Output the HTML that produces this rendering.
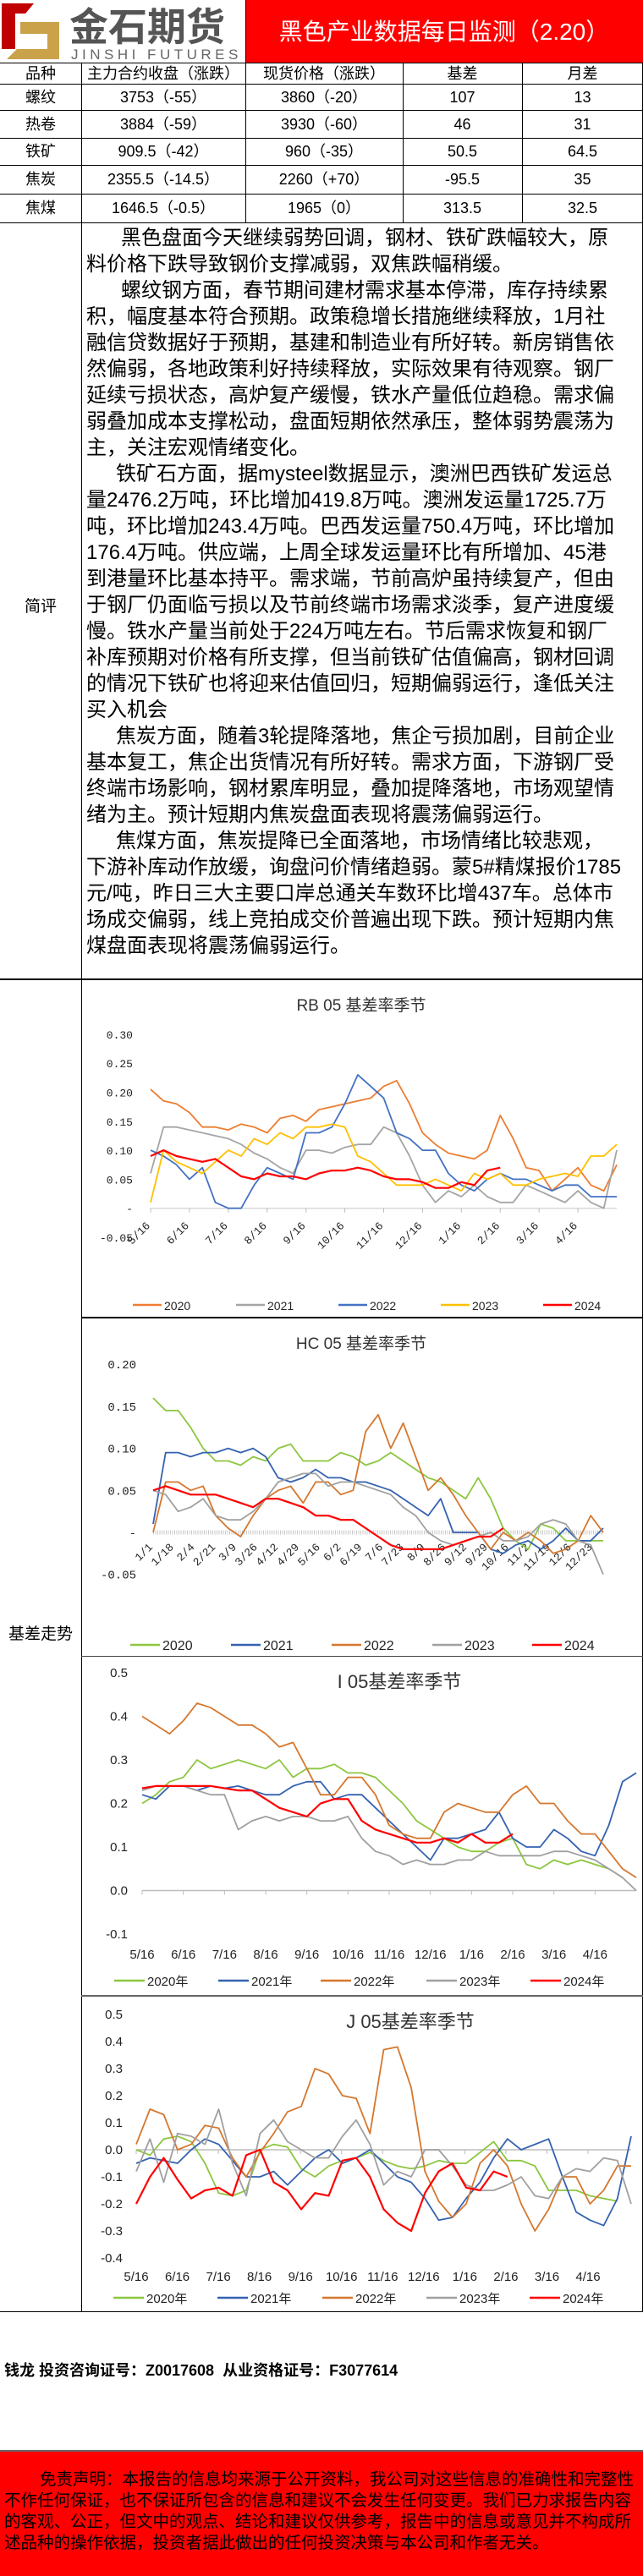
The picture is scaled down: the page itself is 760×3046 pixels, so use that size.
<!DOCTYPE html>
<html><head><meta charset="utf-8">
<style>
html,body{margin:0;padding:0;background:#fff;}
body{width:760px;height:3046px;position:relative;overflow:hidden;font-family:"Liberation Sans","Noto Sans CJK SC",sans-serif;color:#000;}
.a{position:absolute;}
.hl{position:absolute;background:#000;height:1px;}
.vl{position:absolute;background:#000;width:1px;}
.cell{position:absolute;font-size:18px;text-align:center;white-space:nowrap;line-height:1;}
.tl{position:absolute;left:102px;font-size:24px;white-space:nowrap;line-height:1;}
.fl{position:absolute;left:5px;font-size:19.5px;white-space:nowrap;line-height:1;color:#000;}
</style></head>
<body>
<!-- header -->
<div class="a" style="left:0;top:0;width:290px;height:74px;">
<svg width="290" height="74">
<path d="M2 4 H40 L30 16 H18 V58 H2 Z" fill="#C00000"/>
<path d="M24 26 H70 V70 H8 L20 58 H56 V40 H24 Z" fill="#C9A24A"/>
<text x="82" y="48" font-size="46" font-weight="bold" fill="#555" font-family="Liberation Sans,Noto Sans CJK SC,sans-serif">金石期货</text>
<text x="84" y="70" font-size="17" fill="#666" letter-spacing="4.5" font-family="Liberation Sans,sans-serif">JINSHI FUTURES</text>
</svg></div>
<div class="a" style="left:290px;top:0;width:470px;height:74px;background:#FF0000;"></div>
<div class="a" style="left:290px;top:24px;width:470px;text-align:center;color:#fff;font-size:28px;line-height:1;">黑色产业数据每日监测（2.20）</div>

<!-- table lines -->
<div class="hl" style="left:0;top:74px;width:760px;"></div>
<div class="hl" style="left:0;top:99px;width:760px;"></div>
<div class="hl" style="left:0;top:130px;width:760px;"></div>
<div class="hl" style="left:0;top:163px;width:760px;"></div>
<div class="hl" style="left:0;top:195px;width:760px;"></div>
<div class="hl" style="left:0;top:229px;width:760px;"></div>
<div class="hl" style="left:0;top:263px;width:760px;"></div>
<div class="vl" style="left:96px;top:74px;height:2659px;"></div>
<div class="vl" style="left:290px;top:0px;height:263px;"></div>
<div class="vl" style="left:476px;top:74px;height:189px;"></div>
<div class="vl" style="left:617px;top:74px;height:189px;"></div>
<div class="vl" style="left:759px;top:74px;height:2659px;"></div>

<div>
<div class="cell" style="left:0;width:96px;top:78px;">品种</div>
<div class="cell" style="left:96px;width:194px;top:78px;">主力合约收盘（涨跌）</div>
<div class="cell" style="left:290px;width:186px;top:78px;">现货价格（涨跌）</div>
<div class="cell" style="left:476px;width:141px;top:78px;">基差</div>
<div class="cell" style="left:617px;width:143px;top:78px;">月差</div>

<div class="cell" style="left:0;width:96px;top:106px;">螺纹</div>
<div class="cell" style="left:96px;width:194px;top:106px;">3753（-55）</div>
<div class="cell" style="left:290px;width:186px;top:106px;">3860（-20）</div>
<div class="cell" style="left:476px;width:141px;top:106px;">107</div>
<div class="cell" style="left:617px;width:143px;top:106px;">13</div>

<div class="cell" style="left:0;width:96px;top:138px;">热卷</div>
<div class="cell" style="left:96px;width:194px;top:138px;">3884（-59）</div>
<div class="cell" style="left:290px;width:186px;top:138px;">3930（-60）</div>
<div class="cell" style="left:476px;width:141px;top:138px;">46</div>
<div class="cell" style="left:617px;width:143px;top:138px;">31</div>

<div class="cell" style="left:0;width:96px;top:170px;">铁矿</div>
<div class="cell" style="left:96px;width:194px;top:170px;">909.5（-42）</div>
<div class="cell" style="left:290px;width:186px;top:170px;">960（-35）</div>
<div class="cell" style="left:476px;width:141px;top:170px;">50.5</div>
<div class="cell" style="left:617px;width:143px;top:170px;">64.5</div>

<div class="cell" style="left:0;width:96px;top:203px;">焦炭</div>
<div class="cell" style="left:96px;width:194px;top:203px;">2355.5（-14.5）</div>
<div class="cell" style="left:290px;width:186px;top:203px;">2260（+70）</div>
<div class="cell" style="left:476px;width:141px;top:203px;">-95.5</div>
<div class="cell" style="left:617px;width:143px;top:203px;">35</div>

<div class="cell" style="left:0;width:96px;top:237px;">焦煤</div>
<div class="cell" style="left:96px;width:194px;top:237px;">1646.5（-0.5）</div>
<div class="cell" style="left:290px;width:186px;top:237px;">1965（0）</div>
<div class="cell" style="left:476px;width:141px;top:237px;">313.5</div>
<div class="cell" style="left:617px;width:143px;top:237px;">32.5</div>
</div>

<!-- commentary -->
<div class="a" style="left:0;width:96px;top:702px;text-align:center;font-size:19px;">简评</div>
<div>
<div class="tl" style="top:270px;left:143px;">黑色盘面今天继续弱势回调，钢材、铁矿跌幅较大，原</div>
<div class="tl" style="top:301px;">料价格下跌导致钢价支撑减弱，双焦跌幅稍缓。</div>
<div class="tl" style="top:332px;left:143px;">螺纹钢方面，春节期间建材需求基本停滞，库存持续累</div>
<div class="tl" style="top:363px;">积，幅度基本符合预期。政策稳增长措施继续释放，1月社</div>
<div class="tl" style="top:394px;">融信贷数据好于预期，基建和制造业有所好转。新房销售依</div>
<div class="tl" style="top:425px;">然偏弱，各地政策利好持续释放，实际效果有待观察。钢厂</div>
<div class="tl" style="top:456px;">延续亏损状态，高炉复产缓慢，铁水产量低位趋稳。需求偏</div>
<div class="tl" style="top:487px;">弱叠加成本支撑松动，盘面短期依然承压，整体弱势震荡为</div>
<div class="tl" style="top:518px;">主，关注宏观情绪变化。</div>
<div class="tl" style="top:549px;left:137px;">铁矿石方面，据mysteel数据显示，澳洲巴西铁矿发运总</div>
<div class="tl" style="top:580px;">量2476.2万吨，环比增加419.8万吨。澳洲发运量1725.7万</div>
<div class="tl" style="top:611px;">吨，环比增加243.4万吨。巴西发运量750.4万吨，环比增加</div>
<div class="tl" style="top:642px;">176.4万吨。供应端，上周全球发运量环比有所增加、45港</div>
<div class="tl" style="top:673px;">到港量环比基本持平。需求端，节前高炉虽持续复产，但由</div>
<div class="tl" style="top:704px;">于钢厂仍面临亏损以及节前终端市场需求淡季，复产进度缓</div>
<div class="tl" style="top:735px;">慢。铁水产量当前处于224万吨左右。节后需求恢复和钢厂</div>
<div class="tl" style="top:766px;">补库预期对价格有所支撑，但当前铁矿估值偏高，钢材回调</div>
<div class="tl" style="top:797px;">的情况下铁矿也将迎来估值回归，短期偏弱运行，逢低关注</div>
<div class="tl" style="top:828px;">买入机会</div>
<div class="tl" style="top:859px;left:137px;">焦炭方面，随着3轮提降落地，焦企亏损加剧，目前企业</div>
<div class="tl" style="top:890px;">基本复工，焦企出货情况有所好转。需求方面，下游钢厂受</div>
<div class="tl" style="top:921px;">终端市场影响，钢材累库明显，叠加提降落地，市场观望情</div>
<div class="tl" style="top:952px;">绪为主。预计短期内焦炭盘面表现将震荡偏弱运行。</div>
<div class="tl" style="top:983px;left:137px;">焦煤方面，焦炭提降已全面落地，市场情绪比较悲观，</div>
<div class="tl" style="top:1014px;">下游补库动作放缓，询盘问价情绪趋弱。蒙5#精煤报价1785</div>
<div class="tl" style="top:1045px;">元/吨，昨日三大主要口岸总通关车数环比增437车。总体市</div>
<div class="tl" style="top:1076px;">场成交偏弱，线上竞拍成交价普遍出现下跌。预计短期内焦</div>
<div class="tl" style="top:1107px;">煤盘面表现将震荡偏弱运行。</div>
</div>
<div class="hl" style="left:0;top:1157px;width:760px;height:2px;"></div>

<div class="a" style="left:0;width:96px;top:1917px;text-align:center;font-size:19px;">基差走势</div>

<!-- chart boxes -->
<div class="hl" style="left:96px;top:1557px;width:664px;height:2px;"></div>
<div class="hl" style="left:96px;top:1958px;width:664px;background:#444;"></div>
<div class="hl" style="left:96px;top:2359px;width:664px;height:2px;background:#666;"></div>
<div class="hl" style="left:0;top:2733px;width:760px;"></div>

<div class="a" style="left:5px;top:2789px;font-size:18px;font-weight:bold;white-space:nowrap;">钱龙 投资咨询证号：Z0017608 &nbsp;从业资格证号：F3077614</div>

<div class="hl" style="left:0;top:2897px;width:760px;height:2px;background:#666;"></div>
<div class="a" style="left:0;top:2899px;width:760px;height:147px;background:#FF0000;"></div>
<div>
<div class="fl" style="top:2923px;left:47px;">免责声明：本报告的信息均来源于公开资料，我公司对这些信息的准确性和完整性</div>
<div class="fl" style="top:2948px;">不作任何保证，也不保证所包含的信息和建议不会发生任何变更。我们已力求报告内容</div>
<div class="fl" style="top:2973px;">的客观、公正，但文中的观点、结论和建议仅供参考，报告中的信息或意见并不构成所</div>
<div class="fl" style="top:2998px;">述品种的操作依据，投资者据此做出的任何投资决策与本公司和作者无关。</div>
</div>

<svg id="charts" class="a" style="left:0;top:0;" width="760" height="3046" xmlns="http://www.w3.org/2000/svg"></svg>

<script>
// ---------- data ----------
const seasonYears = ["2020","2021","2022","2023","2024"];
const monthTicks = ["5/16","6/16","7/16","8/16","9/16","10/16","11/16","12/16","1/16","2/16","3/16","4/16"];
const hcTicks = ["1/1","1/18","2/4","2/21","3/9","3/26","4/12","4/29","5/16","6/2","6/19","7/6","7/23","8/9","8/26","9/12","9/29","10/16","11/2","11/19","12/6","12/23"];
const rbYTicks = [0.30,0.25,0.20,0.15,0.10,0.05,0,-0.05];
const hcYTicks = [0.20,0.15,0.10,0.05,0,-0.05];
const iYTicks = [0.5,0.4,0.3,0.2,0.1,0,-0.1];
const jYTicks = [0.5,0.4,0.3,0.2,0.1,0,-0.1,-0.2,-0.3,-0.4];

const rb2020 = [0.205,0.185,0.18,0.165,0.14,0.14,0.135,0.145,0.14,0.13,0.155,0.16,0.15,0.17,0.175,0.18,0.185,0.19,0.21,0.22,0.18,0.13,0.11,0.095,0.09,0.085,0.10,0.16,0.12,0.07,0.065,0.03,0.05,0.07,0.04,0.03,0.075];
const rb2021 = [0.06,0.14,0.14,0.135,0.13,0.125,0.12,0.11,0.095,0.085,0.07,0.06,0.10,0.10,0.095,0.105,0.11,0.11,0.14,0.13,0.09,0.04,0.01,0.03,0.02,0.04,0.02,0.01,0.01,0.04,0.03,0.02,0.01,0.03,0.01,0.0,0.10];
const rb2022 = [0.10,0.09,0.075,0.05,0.07,0.01,0.0,0.0,0.04,0.07,0.06,0.05,0.13,0.13,0.14,0.18,0.23,0.21,0.19,0.13,0.12,0.10,0.10,0.06,0.04,0.03,0.05,0.06,0.05,0.05,0.04,0.03,0.04,0.04,0.02,0.02,0.02];
const rb2023 = [0.01,0.10,0.08,0.07,0.06,0.08,0.10,0.09,0.12,0.11,0.13,0.12,0.14,0.14,0.145,0.14,0.09,0.08,0.06,0.04,0.04,0.04,0.05,0.04,0.03,0.06,0.05,0.06,0.04,0.04,0.05,0.055,0.06,0.055,0.09,0.09,0.11];
const rb2024 = [0.09,0.10,0.09,0.085,0.08,0.085,0.07,0.055,0.05,0.06,0.055,0.055,0.05,0.06,0.065,0.065,0.07,0.065,0.055,0.05,0.05,0.045,0.035,0.035,0.045,0.04,0.065,0.07];

const hc2020 = [0.16,0.145,0.145,0.125,0.10,0.085,0.085,0.08,0.09,0.085,0.10,0.105,0.085,0.085,0.085,0.095,0.09,0.08,0.085,0.095,0.085,0.075,0.065,0.06,0.05,0.04,0.065,0.04,0.005,-0.01,-0.02,0.01,0.005,-0.01,-0.01,-0.01,-0.01];
const hc2021 = [0.01,0.095,0.095,0.09,0.095,0.095,0.10,0.095,0.10,0.09,0.065,0.06,0.065,0.075,0.065,0.065,0.06,0.06,0.055,0.05,0.04,0.03,0.02,0.04,0.0,0.0,0.0,-0.02,-0.025,-0.015,-0.01,-0.02,-0.01,0.005,-0.01,-0.01,0.005];
const hc2022 = [0.0,0.06,0.06,0.05,0.055,0.02,0.005,-0.005,0.02,0.04,0.05,0.055,0.035,0.06,0.06,0.045,0.05,0.12,0.14,0.10,0.13,0.09,0.05,0.065,0.045,0.02,0.0,-0.02,0.0,-0.01,0.0,-0.01,-0.025,-0.02,-0.01,0.02,0.0];
const hc2023 = [0.05,0.045,0.025,0.03,0.04,0.02,0.015,0.015,0.025,0.04,0.06,0.065,0.07,0.07,0.055,0.06,0.06,0.055,0.05,0.045,0.03,0.02,0.0,-0.01,-0.015,-0.01,-0.005,0.0,-0.01,-0.01,-0.005,0.01,0.015,0.01,-0.01,-0.015,-0.05];
const hc2024 = [0.05,0.055,0.05,0.045,0.045,0.045,0.04,0.035,0.03,0.04,0.04,0.035,0.03,0.02,0.02,0.015,0.015,0.005,-0.005,-0.015,-0.02,-0.02,-0.02,-0.02,-0.015,-0.01,-0.005,-0.005,0.005];

const i2020 = [0.20,0.22,0.25,0.26,0.30,0.28,0.29,0.30,0.29,0.28,0.30,0.26,0.28,0.28,0.29,0.27,0.27,0.26,0.23,0.20,0.16,0.14,0.12,0.10,0.09,0.09,0.11,0.12,0.06,0.05,0.07,0.06,0.07,0.06,0.05,0.03];
const i2021 = [0.22,0.21,0.24,0.24,0.23,0.24,0.235,0.24,0.23,0.22,0.22,0.24,0.25,0.25,0.21,0.22,0.22,0.19,0.16,0.13,0.10,0.07,0.12,0.12,0.13,0.14,0.18,0.12,0.10,0.10,0.14,0.12,0.09,0.08,0.15,0.25,0.27];
const i2022 = [0.40,0.38,0.36,0.39,0.43,0.42,0.40,0.38,0.38,0.36,0.33,0.34,0.28,0.22,0.22,0.26,0.26,0.22,0.15,0.13,0.12,0.12,0.18,0.20,0.19,0.18,0.18,0.22,0.24,0.20,0.20,0.16,0.13,0.13,0.09,0.05,0.03];
const i2023 = [0.23,0.24,0.24,0.24,0.23,0.22,0.22,0.14,0.16,0.17,0.16,0.17,0.17,0.16,0.16,0.17,0.12,0.09,0.08,0.06,0.07,0.06,0.06,0.07,0.07,0.09,0.08,0.08,0.08,0.08,0.09,0.09,0.08,0.07,0.05,0.03,0.0];
const i2024 = [0.235,0.24,0.24,0.24,0.24,0.24,0.235,0.23,0.23,0.21,0.19,0.18,0.17,0.20,0.21,0.21,0.16,0.14,0.13,0.12,0.11,0.11,0.12,0.11,0.13,0.11,0.11,0.13];

const j2020 = [0.0,-0.02,0.04,0.05,0.03,-0.05,-0.16,-0.17,-0.15,0.0,0.02,0.01,-0.07,-0.10,-0.06,-0.04,-0.03,-0.01,-0.04,-0.06,-0.07,-0.06,-0.04,-0.05,-0.05,-0.01,0.03,-0.04,-0.04,-0.06,-0.15,-0.15,-0.15,-0.17,-0.18,-0.19];
const j2021 = [-0.05,-0.03,-0.04,-0.05,0.0,0.04,0.02,-0.04,-0.10,-0.10,-0.08,-0.13,-0.08,-0.03,0.0,-0.05,-0.03,0.0,-0.05,-0.10,-0.12,-0.18,-0.26,-0.25,-0.18,-0.12,-0.03,0.04,0.0,0.02,0.04,-0.10,-0.23,-0.26,-0.28,-0.18,0.05];
const j2022 = [0.02,0.15,0.13,0.0,0.02,0.09,0.08,-0.03,-0.10,-0.01,0.06,0.14,0.16,0.30,0.28,0.20,0.19,0.06,0.37,0.38,0.23,-0.08,-0.19,-0.25,-0.20,-0.05,0.0,-0.06,-0.20,-0.30,-0.22,-0.10,-0.10,-0.20,-0.15,-0.06,-0.06];
const j2023 = [-0.08,0.04,-0.12,0.06,0.05,0.02,0.15,-0.05,-0.17,0.06,0.11,0.03,0.0,-0.03,-0.03,0.05,0.11,0.02,-0.13,-0.08,-0.10,0.0,0.0,-0.06,-0.13,-0.15,-0.15,-0.13,-0.10,-0.17,-0.18,-0.10,-0.07,-0.08,-0.03,-0.04,-0.20];
const j2024 = [-0.20,-0.10,-0.03,-0.11,-0.18,-0.15,-0.14,-0.17,-0.02,0.0,-0.12,-0.15,-0.22,-0.16,-0.17,-0.04,-0.03,-0.10,-0.22,-0.27,-0.30,-0.16,-0.08,-0.05,-0.14,-0.15,-0.08,-0.10];

// ---------- drawing ----------
const NS = "http://www.w3.org/2000/svg";
const svg = document.getElementById("charts");
const FULL = 37; // points per full season

function mk(tag, attrs, parent) {
  const e = document.createElementNS(NS, tag);
  for (const k in attrs) e.setAttribute(k, attrs[k]);
  (parent || svg).appendChild(e);
  return e;
}
function txt(str, attrs, parent) {
  const t = mk("text", attrs, parent);
  t.textContent = str;
  return t;
}

function drawChart(c) {
  const g = mk("g", {});
  
  
  const xf = i => c.x0 + i * (c.x1 - c.x0) / (FULL - 1);
  const yf = v => c.zeroY - v * c.ppu;
  // title
  const t = txt(c.title, {x: c.titleX, y: c.titleY, "font-size": c.titleSize, "text-anchor": "middle", fill: "#333", "font-family": "Liberation Sans,Noto Sans CJK SC,sans-serif"}, g);
  
  
  // y labels
  c.yTicks.forEach(v => {
    const lab = (v === 0 && c.zeroDash) ? "-" : v.toFixed(c.dec);
    const yl = txt(lab, {x: c.yLabX, y: yf(v) + 5, "font-size": c.yFont, "text-anchor": "end", fill: "#222", "font-family": c.axFont}, g);
    
    
  });
  // zero axis
  const ax = mk("line", {x1: c.x0, x2: c.x1, y1: c.zeroY, y2: c.zeroY, stroke: c.axisColor, "stroke-width": c.axisW, "stroke-dasharray": c.axisDash || "none"}, g);
  
  
  // x ticks
  c.xTicks.forEach((lab, k) => {
    const tx = c.x0 + k * c.tickStep * (c.x1 - c.x0) / (c.tickSpan);
    if (c.tickMarks) mk("line", {x1: tx, x2: tx, y1: c.zeroY, y2: c.zeroY + 5, stroke: "#bbb", "stroke-width": 1}, g);
    let el;
    if (c.rotate) {
      el = txt(lab, {x: tx, y: c.xLabY, "font-size": c.xFont, "text-anchor": "end", fill: "#222", "font-family": c.axFont, transform: "rotate(-45 " + tx + " " + c.xLabY + ")"}, g);
    } else {
      el = txt(lab, {x: tx, y: c.xLabY, "font-size": c.xFont, "text-anchor": "middle", fill: "#222", "font-family": c.axFont}, g);
    }
    
    
  });
  // series
  c.series.forEach((s, si) => {
    const pts = s.map((v, i) => xf(i).toFixed(1) + "," + yf(v).toFixed(1)).join(" ");
    const pl = mk("polyline", {points: pts, fill: "none", stroke: c.colors[si], "stroke-width": si === 4 ? 2.2 : 1.8, "stroke-linejoin": "round"}, g);
    
    
  });
  // legend
  c.legX.forEach((lx, si) => {
    const lg = mk("g", {}, g);
    
    
    mk("line", {x1: lx, x2: lx + c.legLine, y1: c.legY, y2: c.legY, stroke: c.colors[si], "stroke-width": 2.5}, lg);
    txt(seasonYears[si] + c.legSuffix, {x: lx + c.legLine + 3, y: c.legY + 6, "font-size": c.legFont, fill: "#222", "font-family": "Liberation Sans,Noto Sans CJK SC,sans-serif"}, lg);
  });
}

const rbColors = ["#ED7D31","#A5A5A5","#4472C4","#FFC000","#FF0000"];
const seasColors = ["#8CC63F","#3462B0","#D5772E","#A0A0A0","#FF0000"];

drawChart({name:"rb05-basis-chart", title:"RB 05 基差率季节", titleX:427, titleY:1195, titleSize:19,
  x0:178, x1:729, zeroY:1428.7, ppu:686, yTicks:rbYTicks, dec:2, zeroDash:true, yLabX:157, yFont:13,
  axFont:"Liberation Mono,monospace", axisColor:"#d9d9d9", axisW:1.5, tickMarks:true,
  xTicks:monthTicks, tickStep:1, tickSpan:12, rotate:true, xLabY:1450, xFont:13,
  series:[rb2020,rb2021,rb2022,rb2023,rb2024], colors:rbColors,
  legX:[157,279,400,521,642], legY:1543, legLine:34, legFont:14, legSuffix:""});

drawChart({name:"hc05-basis-chart", title:"HC 05 基差率季节", titleX:427, titleY:1595, titleSize:19,
  x0:181, x1:713, zeroY:1812, ppu:994, yTicks:hcYTicks, dec:2, zeroDash:true, yLabX:161, yFont:14,
  axFont:"Liberation Mono,monospace", axisColor:"#c8c8c8", axisW:5, axisDash:"1,1.5", tickMarks:false,
  xTicks:hcTicks, tickStep:1, tickSpan:21.5, rotate:true, xLabY:1830, xFont:13,
  series:[hc2020,hc2021,hc2022,hc2023,hc2024], colors:seasColors,
  legX:[154,273,392,511,629], legY:1945, legLine:35, legFont:16, legSuffix:""});

drawChart({name:"i05-basis-chart", title:"I 05基差率季节", titleX:472, titleY:1996, titleSize:22,
  x0:168, x1:752, zeroY:2235.5, ppu:515, yTicks:iYTicks, dec:1, zeroDash:false, yLabX:151, yFont:15,
  axFont:"Liberation Sans,sans-serif", axisColor:"#bdbdbd", axisW:1.5, tickMarks:true,
  xTicks:monthTicks, tickStep:1, tickSpan:12, rotate:false, xLabY:2316, xFont:15,
  series:[i2020,i2021,i2022,i2023,i2024], colors:seasColors,
  legX:[135,258,379,504,627], legY:2342, legLine:36, legFont:15, legSuffix:"年"});

drawChart({name:"j05-basis-chart", title:"J 05基差率季节", titleX:485, titleY:2398, titleSize:22,
  x0:161, x1:746, zeroY:2542, ppu:320, yTicks:jYTicks, dec:1, zeroDash:false, yLabX:145, yFont:15,
  axFont:"Liberation Sans,sans-serif", axisColor:"#bdbdbd", axisW:1.5, tickMarks:true,
  xTicks:monthTicks, tickStep:1, tickSpan:12.05, rotate:false, xLabY:2697, xFont:15,
  series:[j2020,j2021,j2022,j2023,j2024], colors:seasColors,
  legX:[134,257,381,504,626], legY:2717, legLine:36, legFont:15, legSuffix:"年"});
</script>
</body></html>
